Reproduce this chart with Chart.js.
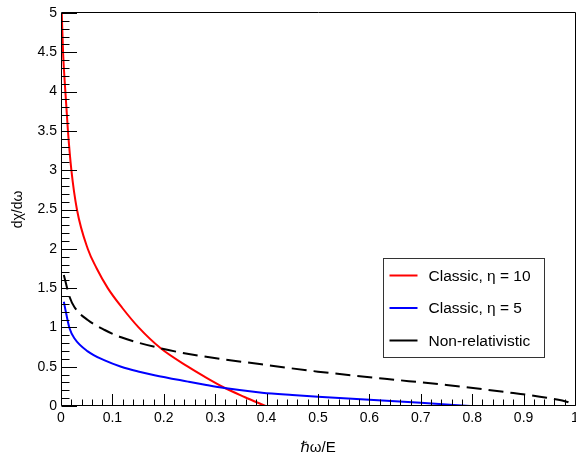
<!DOCTYPE html>
<html><head><meta charset="utf-8">
<script src="https://cdn.jsdelivr.net/npm/chart.js@4.4.1/dist/chart.umd.min.js"></script>
<style>html,body{margin:0;padding:0;background:#fff;} canvas{display:block;}</style>
</head><body>
<canvas id="c" width="576" height="457"></canvas>
<script>
// ---- data ----
const redX = [0.0015, 0.004, 0.0085, 0.0135, 0.0202, 0.031, 0.052, 0.0695, 0.091, 0.119, 0.151, 0.194, 0.247, 0.280, 0.318, 0.357, 0.398];
const redY = [5.0, 4.5, 4.0, 3.5, 3.0, 2.5, 2.0, 1.75, 1.5, 1.25, 1.0, 0.734, 0.50, 0.37, 0.232, 0.115, 0.0];

const blueX = [0.0055, 0.010, 0.0166, 0.026, 0.052, 0.085, 0.117, 0.15, 0.182, 0.247, 0.280, 0.318, 0.391, 0.45, 0.50, 0.60, 0.70, 0.796];
const blueY = [1.327, 1.18, 0.989, 0.861, 0.695, 0.58, 0.50, 0.44, 0.392, 0.31, 0.27, 0.228, 0.17, 0.14, 0.118, 0.08, 0.042, 0.0];

const blackX = [0.0055, 0.0166, 0.026, 0.052, 0.085, 0.117, 0.194, 0.26, 0.39, 0.50, 0.63, 0.75, 0.88, 0.945, 0.99, 1.0];
const blackY = [1.667, 1.39, 1.26, 1.094, 0.967, 0.875, 0.734, 0.649, 0.53, 0.437, 0.347, 0.267, 0.165, 0.105, 0.04, 0.0];

const seriesLabels = ['Classic, \u03B7 = 10', 'Classic, \u03B7 = 5', 'Non-relativistic'];
const seriesColors = ['#ff0000', '#0000ff', '#000000'];
const xTickLabels = ['0', '0.1', '0.2', '0.3', '0.4', '0.5', '0.6', '0.7', '0.8', '0.9', '1'];
const yTickLabels = ['0', '0.5', '1', '1.5', '2', '2.5', '3', '3.5', '4', '4.5', '5'];
const xTitle = '\u210F\u03C9/E';
const yTitle = 'd\u03C7/d\u03C9';

const FONT = "'Liberation Sans', Arial, 'DejaVu Sans', sans-serif";

function pts(xs, ys) { return xs.map((x, i) => ({ x: x, y: ys[i] })); }

const framePlugin = {
  id: 'rootFrame',
  beforeDraw(chart) {
    const ctx = chart.ctx;
    ctx.save();
    ctx.fillStyle = '#fff';
    ctx.fillRect(0, 0, chart.width, chart.height);
    ctx.restore();
  },
  afterDatasetsDraw(chart) {
    const ctx = chart.ctx, a = chart.chartArea;
    const xs = chart.scales.x, ys = chart.scales.y;
    ctx.save();
    ctx.strokeStyle = '#000';
    ctx.lineWidth = 1;
    const L = Math.round(a.left) + 0.5, R = Math.round(a.right) + 0.5;
    const T = Math.round(a.top) - 0.5, B = Math.round(a.bottom) - 0.5;
    ctx.beginPath();
    ctx.moveTo(L, T); ctx.lineTo(R, T); ctx.lineTo(R, B); ctx.lineTo(L, B); ctx.closePath();
    ctx.stroke();
    ctx.beginPath();
    for (let i = 0; i <= 50; i++) {
      const px = Math.round(xs.getPixelForValue(i * 0.02)) + 0.5;
      const len = (i % 5 === 0) ? 11.5 : 6;
      ctx.moveTo(px, B); ctx.lineTo(px, B - len);
    }
    for (let j = 0; j <= 50; j++) {
      const py = Math.round(ys.getPixelForValue(j * 0.1)) + 0.5;
      const len = (j % 5 === 0) ? 15.5 : 8;
      ctx.moveTo(L, py); ctx.lineTo(L + len, py);
    }
    ctx.stroke();
    ctx.restore();
  },
  afterDraw(chart) {
    const ctx = chart.ctx, a = chart.chartArea;
    const w = a.right - a.left, h = a.bottom - a.top;
    const bx = Math.round(a.left + 0.6265 * w) + 0.5;
    const by = Math.round(a.top + 0.623 * h) + 0.5;
    const bw = 161, bh = 99;
    ctx.save();
    ctx.fillStyle = '#fff';
    ctx.fillRect(bx, by, bw, bh);
    ctx.strokeStyle = '#333';
    ctx.lineWidth = 1;
    ctx.strokeRect(bx, by, bw, bh);
    ctx.font = '15.5px ' + FONT;
    ctx.textBaseline = 'middle';
    ctx.textAlign = 'left';
    chart.data.datasets.forEach((ds, i) => {
      const yy = by + 17 + i * 32.5;
      ctx.strokeStyle = ds.borderColor;
      ctx.lineWidth = 2;
      ctx.setLineDash([]);
      ctx.beginPath();
      ctx.moveTo(bx + 6, yy); ctx.lineTo(bx + 34, yy);
      ctx.stroke();
      ctx.fillStyle = '#000';
      ctx.fillText(ds.label, bx + 45, yy + 1);
    });
    ctx.restore();
  }
};

const datasets = [
  { label: seriesLabels[0], data: pts(redX, redY), borderColor: seriesColors[0], borderWidth: 2, order: 3 },
  { label: seriesLabels[1], data: pts(blueX, blueY), borderColor: seriesColors[1], borderWidth: 2, order: 2 },
  { label: seriesLabels[2], data: pts(blackX, blackY), borderColor: seriesColors[2], borderWidth: 2, borderDash: [15, 7], order: 1 }
].map(d => Object.assign(d, { showLine: true, pointRadius: 0, fill: false, cubicInterpolationMode: 'monotone', backgroundColor: d.borderColor }));

new Chart(document.getElementById('c'), {
  type: 'scatter',
  data: { datasets: datasets },
  plugins: [framePlugin],
  options: {
    responsive: false,
    animation: false,
    events: [],
    layout: { padding: { left: 0, right: 1, top: 13, bottom: 0 } },
    plugins: { legend: { display: false }, tooltip: { enabled: false }, title: { display: false } },
    scales: {
      x: {
        type: 'linear', min: 0, max: 1,
        grid: { display: false, drawTicks: false },
        border: { display: false },
        ticks: {
          stepSize: 0.1, autoSkip: false, maxRotation: 0, padding: 4,
          color: '#000', font: { family: FONT, size: 14 },
          callback: (v, i) => xTickLabels[i]
        },
        title: { display: true, text: xTitle, color: '#000', font: { family: FONT, size: 15 }, padding: { top: 0, bottom: 0 } },
        afterFit: (s) => { s.height = 51; s.paddingLeft = 0; s.paddingRight = 0; }
      },
      y: {
        type: 'linear', min: 0, max: 5,
        grid: { display: false, drawTicks: false },
        border: { display: false },
        ticks: {
          stepSize: 0.5, autoSkip: false, padding: 4,
          color: '#000', font: { family: FONT, size: 14 },
          callback: (v, i) => yTickLabels[i]
        },
        title: { display: true, text: yTitle, color: '#000', font: { family: FONT, size: 14 }, padding: { top: 10, bottom: 0 } },
        afterFit: (s) => { s.width = 61; s.paddingTop = 0; s.paddingBottom = 0; }
      }
    }
  }
});
</script>
</body></html>
